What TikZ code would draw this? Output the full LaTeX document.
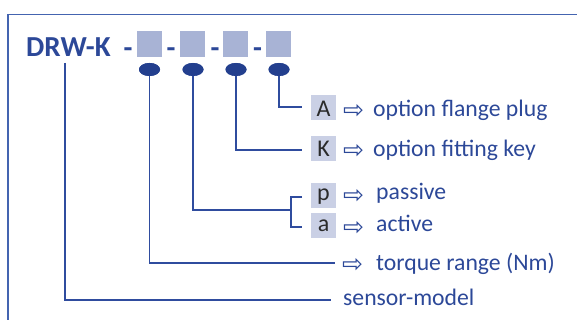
\documentclass[tikz,border=0pt]{standalone}
\usepackage{fontspec}
\setmainfont{Carlito}
\newfontfamily\symfont{DejaVu Sans}
\definecolor{tblue}{HTML}{2C4898}
\definecolor{dblue}{HTML}{233F8E}
\definecolor{lblue}{HTML}{2F4C9E}
\definecolor{fblue}{HTML}{4464B0}
\definecolor{sq}{HTML}{A8B3D5}
\definecolor{lb}{HTML}{CAD0E5}
\definecolor{lt}{HTML}{2B2B2B}
\tikzset{
  big/.style={font=\fontsize{29}{29}\selectfont\bfseries, text=tblue, inner sep=0pt, anchor=base},
  sqbox/.style={fill=sq, minimum width=25pt, minimum height=26pt, inner sep=0pt},
  dot/.style={ellipse, fill=dblue, minimum width=21pt, minimum height=13pt, inner sep=0pt},
  lbox/.style={fill=lb, minimum width=25pt, minimum height=25pt, inner sep=0pt},
  ltr/.style={font=\fontsize{24}{24}\selectfont, text=lt, inner sep=0pt, anchor=base},
  desc/.style={font=\fontsize{23.7}{23.7}\selectfont, text=tblue, inner sep=0pt, anchor=base west},
  arr/.style={font=\symfont\fontsize{25}{25}\selectfont, text=tblue, inner sep=0pt, anchor=base west},
  conn/.style={draw=lblue, line width=1.4pt},
}
\usetikzlibrary{shapes.geometric}
\begin{document}
\begin{tikzpicture}[x=1pt,y=-1pt]
\useasboundingbox (0,0) rectangle (577,320);
% frame
\draw[fblue, line width=1.6pt] (8,321) -- (8,14.5) -- (578,14.5);
% title
\node[big, anchor=base west] (drw) at (26,56.7) {DRW-K};
\node[big] (h0) at (128,58) {-};
\node[sqbox] (s1) at (149.5,44) {};
\node[big] (h1) at (171,58) {-};
\node[sqbox] (s2) at (192.5,44) {};
\node[big] (h2) at (215,58) {-};
\node[sqbox] (s3) at (235.5,44) {};
\node[big] (h3) at (257.5,58) {-};
\node[sqbox] (s4) at (278.5,44) {};
% dots
\node[dot] (e1) at (149.5,69.5) {};
\node[dot] (e2) at (193,69.5) {};
\node[dot] (e3) at (236,69.5) {};
\node[dot] (e4) at (279,69.5) {};
% letter boxes
\node[lbox] (bA) at (323.5,107.5) {};
\node[ltr] at (323.5,116.7) {A};
\node[lbox] (bK) at (323.5,149) {};
\node[ltr] at (323.5,157) {K};
\node[lbox] (bp) at (323.5,195.5) {};
\node[ltr] at (323.5,200.5) {p};
\node[lbox] (ba) at (323.5,225) {};
\node[ltr] at (323.5,231.7) {a};
% arrows and descriptions
\node[arr] (a1) at (343,118.5) {⇨};
\node[desc] (t1) at (373,117) {option flange plug};
\node[arr] (a2) at (343,158.5) {⇨};
\node[desc] (t2) at (373,157) {option fitting key};
\node[arr] (a3) at (343,203.5) {⇨};
\node[desc] (t3) at (376,200) {passive};
\node[arr] (a4) at (343,235.5) {⇨};
\node[desc] (t4) at (376,231.7) {active};
\node[arr] (a5) at (342,272) {⇨};
\node[desc] (t5) at (376,270.5) {torque range (Nm)};
\node[desc] (t6) at (343,305) {sensor-model};
% connectors
\coordinate (c4) at (302,107);
\coordinate (c3) at (302,150);
\coordinate (c2) at (291,210);
\coordinate (c1) at (335,263);
\coordinate (c0) at (331,300);
\coordinate (bt) at (302,197);
\coordinate (bb) at (302,227);
\draw[conn] (e4.center) |- (c4);
\draw[conn] (e3.center) |- (c3);
\draw[conn] (e2.center) |- (c2);
\draw[conn] (bt) -| (c2) |- (bb);
\draw[conn] (e1.center) |- (c1);
\draw[conn] (65,63) |- (c0);
\node[dot] at (e1) {};
\node[dot] at (e2) {};
\node[dot] at (e3) {};
\node[dot] at (e4) {};
\end{tikzpicture}
\end{document}
